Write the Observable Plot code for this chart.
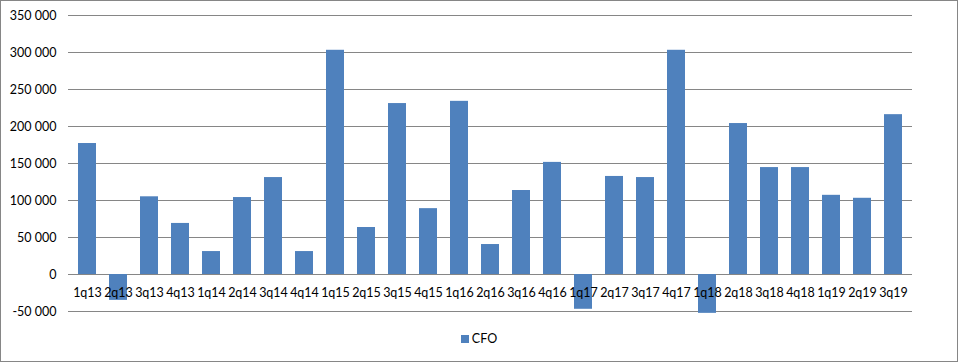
<!DOCTYPE html>
<html>
<head>
<meta charset="utf-8">
<script src="https://cdn.jsdelivr.net/npm/d3@7"></script>
<script src="https://cdn.jsdelivr.net/npm/@observablehq/plot@0.6"></script>
<style>
  html, body { margin: 0; padding: 0; background: #fff; }
  #wrap { position: relative; width: 958px; height: 362px; font-family: Lato, "Open Sans", sans-serif; }
  #frame { position: absolute; left: 0; top: 0; width: 958px; height: 362px; box-sizing: border-box; border: 1px solid #868686; pointer-events: none; }
  #chart { position: absolute; left: 0; top: 0; }
  #legend { position: absolute; left: 0; width: 958px; top: 331px; text-align: center; font-size: 12.5px; color: #000; }
  #legend .sw { display: inline-block; width: 8px; height: 8px; background: #4F81BD; margin-right: 3px; vertical-align: 0px; }
</style>
</head>
<body>
<div id="wrap">
  <div id="chart"></div>
  <div id="legend"><span class="sw"></span>CFO</div>
  <div id="frame"></div>
</div>
<script>
const quarters = ["1q13","2q13","3q13","4q13","1q14","2q14","3q14","4q14","1q15","2q15","3q15","4q15","1q16","2q16","3q16","4q16","1q17","2q17","3q17","4q17","1q18","2q18","3q18","4q18","1q19","2q19","3q19"];
const cfo = [177000, -35000, 105000, 69000, 31000, 104000, 131000, 31000, 303000, 63500, 231000, 89000, 234000, 40500, 113500, 151500, -47000, 132500, 131000, 303000, -52500, 204000, 144500, 144500, 107000, 103000, 216000];
const yTicks = [-50000, 0, 50000, 100000, 150000, 200000, 250000, 300000, 350000];

const data = quarters.map((q, i) => ({q, v: cfo[i]}));
const fmt = d => d3.format(",")(d).replace(/,/g, " ").replace("−", "-");

const chart = Plot.plot({
  width: 958,
  height: 320,
  marginLeft: 68,
  marginRight: 46,
  marginTop: 15,
  marginBottom: 9,
  style: { fontFamily: "Lato, 'Open Sans', sans-serif", fontSize: "12px", color: "#000", background: "transparent" },
  x: { domain: quarters, paddingInner: 0.42, paddingOuter: 0.21, axis: null },
  y: { domain: [-50000, 350000], label: null },
  marks: [
    Plot.gridY(yTicks, { stroke: "#868686", strokeOpacity: 1, strokeWidth: 1 }),
    Plot.barY(data, { x: "q", y: "v", fill: "#4F81BD" }),
    Plot.axisY(yTicks, { tickSize: 0, tickPadding: 12, tickFormat: fmt, fill: "#000", fontSize: 12.5, label: null }),
    Plot.text(data, { x: "q", y: () => 0, text: "q", dy: 18, fill: "#000", fontSize: 12.5 })
  ]
});
document.getElementById("chart").appendChild(chart);
</script>
</body>
</html>
